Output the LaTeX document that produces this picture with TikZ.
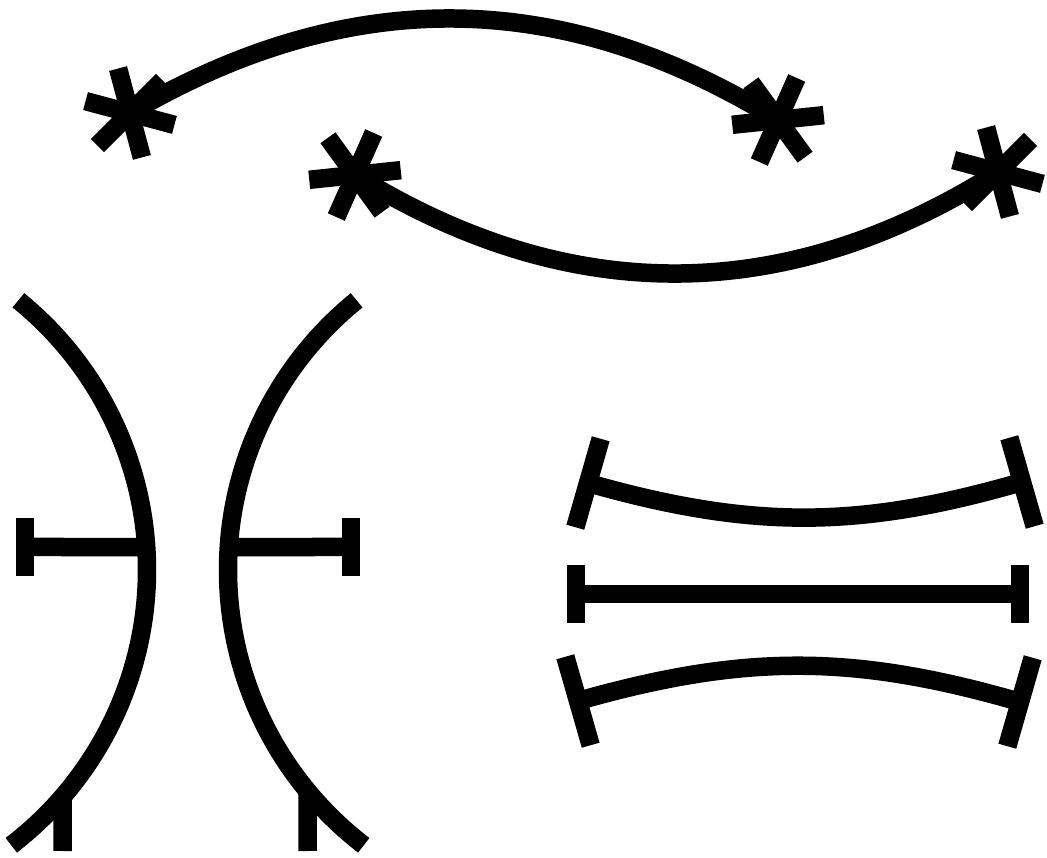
\documentclass[tikz,border=0pt]{standalone}
\begin{document}
\begin{tikzpicture}[x=1pt, y=1pt]
% picture frame is 1047 x 857, unit = 1pt
\def\lw{18.5pt}
\providecommand{\starArm}{46}
\providecommand{\arcRad}{347}
\useasboundingbox (0,0) rectangle (1047,857);
\begin{scope}[line width=\lw, line cap=butt, line join=miter]
  % End points of the two top arcs
  \coordinate (upperL) at (130,744);
  \coordinate (upperR) at (778,737);
  \coordinate (lowerL) at (355,682);
  \coordinate (lowerR) at (998,685);
  % Top arcs
  \draw (upperL) to[bend left=31] (upperR);
  \draw (lowerL) to[bend right=32] (lowerR);
  % Asterisks at the arc ends
  \foreach \c/\r in {upperL/-15, upperR/6, lowerL/6, lowerR/-15}
    \foreach \a in {0,60,120}
      \draw ([shift={(\r+\a:\starArm)}]\c) -- ([shift={(\r+\a+180:\starArm)}]\c);
  % Left pair of arcs (circle centres)
  \coordinate (archL) at (-200,287);
  \coordinate (archR) at (575,287);
  \draw ([shift={(51:\arcRad)}]archL) arc[start angle=51, end angle=-52.5, radius=\arcRad];
  \draw ([shift={(129:\arcRad)}]archR) arc[start angle=129, end angle=232.5, radius=\arcRad];
  % Side T-bars
  \coordinate (tL) at (25,310);
  \coordinate (tR) at (351,310);
  \draw (tL) -- ([shift={(3.8:\arcRad)}]archL);
  \draw ([shift={(176.2:\arcRad)}]archR) -- (tR);
  % Bottom ticks
  \coordinate (tickL) at (62.5,6);
  \coordinate (tickR) at (307.7,6);
  \draw (tickL) -- ([shift={(-40.8:\arcRad)}]archL);
  \draw (tickR) -- ([shift={(219.6:\arcRad)}]archR);
  % Right group of three lines
  \coordinate (topL) at (588,374);
  \coordinate (topR) at (1022,375);
  \coordinate (midL) at (576,263);
  \coordinate (midR) at (1020,263);
  \coordinate (botL) at (578,156);
  \coordinate (botR) at (1020,155);
  \draw (topL) to[bend right=16] (topR);
  \draw (midL) -- (midR);
  \draw (botL) to[bend left=16] (botR);
  % End bars
  \foreach \c/\r/\h in {topL/74/46, topR/106/46, midL/90/29, midR/90/29,
                        botL/106/46, botR/74/46, tL/90/29, tR/90/29}
    \draw ([shift={(\r:\h)}]\c) -- ([shift={(\r+180:\h)}]\c);
\end{scope}
\end{tikzpicture}
\end{document}
